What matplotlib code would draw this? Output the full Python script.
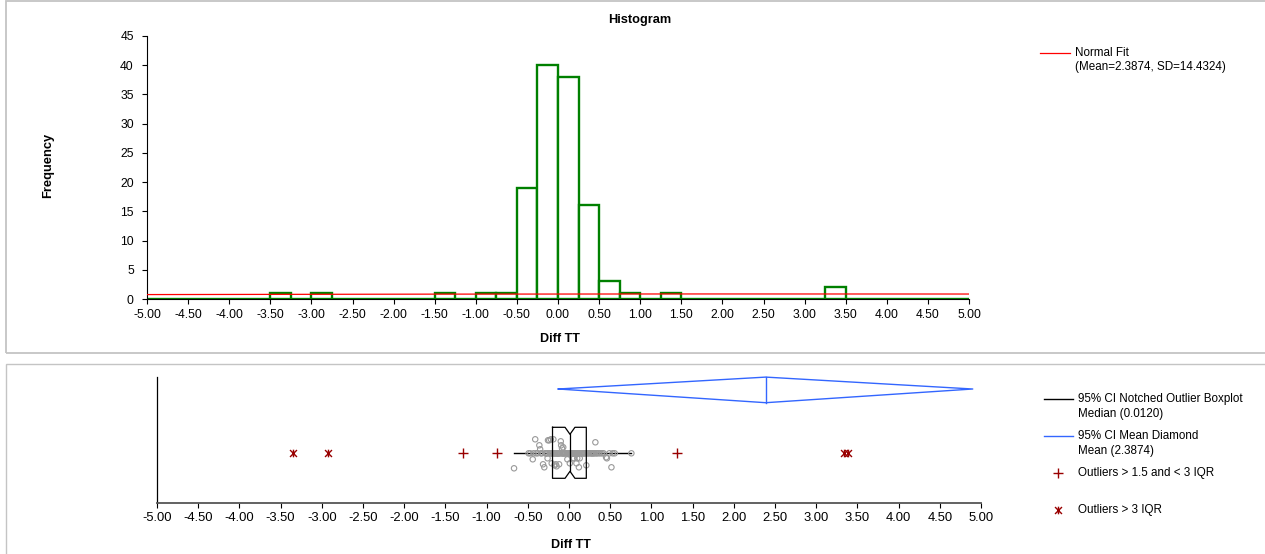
import numpy as np
import matplotlib
matplotlib.use("Agg")
import matplotlib.pyplot as plt
from matplotlib.patches import Rectangle
from matplotlib.lines import Line2D
from matplotlib.path import Path

plt.rcParams['font.family'] = ['Liberation Sans', 'DejaVu Sans']

# ---------------- data ----------------
bin_start = -5.0
bin_width = 0.25
counts = [0, 0, 0, 0, 0, 0, 1, 0, 1, 0,
          0, 0, 0, 0, 1, 0, 1, 1, 19, 40,
          38, 16, 3, 1, 0, 1, 0, 0, 0, 0,
          0, 0, 0, 2, 0, 0, 0, 0, 0, 0]
n_obs = 125
fit_mean = 2.3874
fit_sd = 14.4324
x_ticks = [-5.0, -4.5, -4.0, -3.5, -3.0, -2.5, -2.0, -1.5, -1.0, -0.5,
           0.0, 0.5, 1.0, 1.5, 2.0, 2.5, 3.0, 3.5, 4.0, 4.5, 5.0]
y_ticks = [0, 5, 10, 15, 20, 25, 30, 35, 40, 45]

# box plot summary
median = 0.012
q1 = -0.20
q3 = 0.21
notch_half = 0.06
whisker_low = -0.667
whisker_high = 0.757
mean_ci_low = -0.13
mean_ci_high = 4.90
mild_outliers = [-1.29, -0.87, 1.31]
extreme_outliers = [-3.35, -2.93, 3.34, 3.39]

# jittered observations (value, vertical jitter in px, + = up)
jitter_values = [
    -0.667,
    -0.49, -0.47, -0.44, -0.43, -0.41, -0.40, -0.38, -0.36, -0.35, -0.34,
    -0.33, -0.315, -0.30, -0.29, -0.28, -0.27, -0.26, -0.26, -0.255,
    -0.24, -0.235, -0.23, -0.22, -0.215, -0.21, -0.205, -0.20, -0.19, -0.185,
    -0.18, -0.175, -0.17, -0.165, -0.16, -0.155, -0.15, -0.145, -0.14, -0.135,
    -0.13, -0.125, -0.12, -0.115, -0.11, -0.10, -0.095, -0.09, -0.085, -0.08,
    -0.075, -0.07, -0.065, -0.06, -0.05, -0.04, -0.03, -0.02, -0.015, -0.01,
    0.0, 0.005, 0.01, 0.015, 0.02, 0.025, 0.03, 0.035, 0.04, 0.045,
    0.05, 0.055, 0.06, 0.065, 0.07, 0.075, 0.08, 0.085, 0.09, 0.095,
    0.10, 0.105, 0.11, 0.115, 0.12, 0.125, 0.13, 0.14, 0.15, 0.16,
    0.17, 0.18, 0.19, 0.20, 0.21, 0.22, 0.23, 0.24,
    0.26, 0.27, 0.28, 0.29, 0.30, 0.31, 0.32, 0.33, 0.34, 0.36,
    0.38, 0.40, 0.42, 0.45, 0.46, 0.49,
    0.515, 0.53, 0.555, 0.757]
jitter_offsets = [
    -15,
    0, 0, -6, 0, 14, 0, 0, 8, 4, 0,
    0, -11, -14, 0, 0, 0, -5, 0, 13,
    13, 0, 0, 14, 0, -10, 0, 0, 14, 0,
    0, -12, 0, 0, -11, 0, -13, 0, 0, 0,
    0, 0, -11, 0, 0, 12, 8, 0, 5, 0,
    0, 6, 0, 0, 0, 0, 0, -6, 0, 0,
    0, 0, -10, 0, 0, 0, 0, 0, 0, 0,
    -5, 0, -5, 0, 0, 0, 0, 0, -10, 0,
    -5, 0, 0, 0, -14, 0, -5, 0, 0, 0,
    0, 0, 0, 0, -12, 0, 0, 0,
    0, 0, 0, 0, 0, 0, 11, 0, 0, 0,
    0, 0, 0, -4, -5, 0,
    -14, 0, 0, 0]

# ---------------- layout helpers ----------------
W, H = 1265, 554
def fx(px):
    return px / W
def fy(py):
    return 1 - py / H

fig = plt.figure(figsize=(W / 100, H / 100), dpi=100)
fig.patch.set_facecolor('white')

# panel frames
fig.patches.append(Rectangle((fx(6), fy(353)), fx(1300 - 6), fy(1) - fy(353),
                             transform=fig.transFigure, fill=False,
                             edgecolor='#c4c4c4', lw=1.3))
fig.patches.append(Rectangle((fx(6), fy(600)), fx(1300 - 6), fy(364) - fy(600),
                             transform=fig.transFigure, fill=False,
                             edgecolor='#c4c4c4', lw=1.0))

FS_TOP = 8.7
FS_BOT = 9.4
FS_LEG = 8.4
FS_LAB = 9.0
GREEN = '#008000'
RED = '#ff0000'
DARKRED = '#990000'
BLUE = '#3366ff'
GRAY = '#999999'

# ---------------- histogram ----------------
ax1 = fig.add_axes([fx(147), fy(299), fx(969) - fx(147), fy(36) - fy(299)])
lefts = bin_start + bin_width * np.arange(len(counts))
ax1.bar(lefts, counts, width=bin_width, align='edge', facecolor='white',
        edgecolor=GREEN, linewidth=1.7, zorder=2)
xs = np.linspace(-5, 5, 300)
pdf = n_obs * bin_width * np.exp(-0.5 * ((xs - fit_mean) / fit_sd) ** 2) / (fit_sd * np.sqrt(2 * np.pi))
ax1.plot(xs, pdf, color=RED, lw=0.9, zorder=3)
ax1.set_xlim(-5, 5)
ax1.set_ylim(0, 45)
ax1.set_xticks(x_ticks)
ax1.set_xticklabels([f"{t:.2f}" for t in x_ticks])
ax1.set_yticks(y_ticks)
for s in ['top', 'right']:
    ax1.spines[s].set_visible(False)
for s in ['left', 'bottom']:
    ax1.spines[s].set_linewidth(0.8)
ax1.tick_params(axis='both', direction='out', length=3.5, width=0.8,
                labelsize=FS_TOP, colors='black')
ax1.tick_params(axis='x', pad=4)
ax1.tick_params(axis='y', pad=6)

fig.text(fx(640), fy(20), 'Histogram', fontsize=9.2, fontweight='bold',
         ha='center', va='center')
fig.text(fx(48), fy(165), 'Frequency', fontsize=9.3, fontweight='bold',
         rotation=90, ha='center', va='center')
fig.text(fx(560), fy(339), 'Diff TT', fontsize=FS_LAB, fontweight='bold',
         ha='center', va='center')

# legend (top)
fig.add_artist(Line2D([fx(1040), fx(1070)], [fy(53), fy(53)], color=RED, lw=0.9))
fig.text(fx(1075), fy(53), 'Normal Fit', fontsize=FS_LEG, ha='left', va='center')
fig.text(fx(1075), fy(67), '(Mean=2.3874, SD=14.4324)', fontsize=FS_LEG, ha='left', va='center')

# ---------------- box plot ----------------
ax2 = fig.add_axes([fx(157), fy(503.3), fx(981) - fx(157), fy(376.7) - fy(503.3)])
ax2.set_xlim(-5, 5)
ax2.set_ylim(0, 126.6)
yc = 50.0
box_top = 76.0
box_bot = 25.0
notch_depth = 7.0

# mean diamond
d_mid, d_top, d_bot = 114.3, 126.2, 100.6
ax2.plot([mean_ci_low, fit_mean, mean_ci_high, fit_mean, mean_ci_low],
         [d_mid, d_top, d_mid, d_bot, d_mid], color=BLUE, lw=1.0, clip_on=False)
ax2.plot([fit_mean, fit_mean], [d_bot, d_top], color=BLUE, lw=1.0, clip_on=False)

# jittered points
ax2.scatter(jitter_values, [yc + o for o in jitter_offsets], s=15,
            facecolors='none', edgecolors=GRAY, linewidths=0.8, zorder=3)

# whiskers
ax2.plot([whisker_low, q1], [yc, yc], color='black', lw=1.0, zorder=2)
ax2.plot([q3, whisker_high], [yc, yc], color='black', lw=1.0, zorder=2)

# notched box
bx = [q1, median - notch_half, median, median + notch_half, q3,
      q3, median + notch_half, median, median - notch_half, q1, q1]
by = [box_top, box_top, box_top - notch_depth, box_top, box_top,
      box_bot, box_bot, box_bot + notch_depth, box_bot, box_bot, box_top]
ax2.plot(bx, by, color='black', lw=0.9, zorder=4)
ax2.plot([median, median], [box_bot + notch_depth, box_top - notch_depth],
         color='black', lw=0.9, zorder=4)

# outliers
star = Path([(-1, -1), (1, 1), (-1, 1), (1, -1), (0, -1.1), (0, 1.1)],
            [Path.MOVETO, Path.LINETO, Path.MOVETO, Path.LINETO, Path.MOVETO, Path.LINETO])
ax2.plot(mild_outliers, [yc] * len(mild_outliers), linestyle='none', marker='+',
         ms=6.5, mew=1.0, color=DARKRED, zorder=5)
ax2.plot(extreme_outliers, [yc] * len(extreme_outliers), linestyle='none', marker=star,
         ms=5.5, mew=1.0, color=DARKRED, zorder=5)

ax2.set_xticks(x_ticks)
ax2.set_xticklabels([f"{t:.2f}" for t in x_ticks])
ax2.set_yticks([])
for s in ['top', 'right']:
    ax2.spines[s].set_visible(False)
ax2.spines['left'].set_linewidth(0.9)
ax2.spines['bottom'].set_linewidth(1.3)
ax2.spines['bottom'].set_color('#555555')
ax2.tick_params(axis='x', direction='out', length=3.5, width=0.8,
                labelsize=FS_BOT, pad=2.5, color='black')
fig.text(fx(571), fy(545), 'Diff TT', fontsize=FS_LAB, fontweight='bold',
         ha='center', va='center')

# legend (bottom)
fig.add_artist(Line2D([fx(1044), fx(1073)], [fy(399), fy(399)], color='black', lw=1.0))
fig.text(fx(1078), fy(399), '95% CI Notched Outlier Boxplot', fontsize=FS_LEG, ha='left', va='center')
fig.text(fx(1078), fy(414), 'Median (0.0120)', fontsize=FS_LEG, ha='left', va='center')
fig.add_artist(Line2D([fx(1044), fx(1073)], [fy(436), fy(436)], color=BLUE, lw=1.0))
fig.text(fx(1078), fy(436), '95% CI Mean Diamond', fontsize=FS_LEG, ha='left', va='center')
fig.text(fx(1078), fy(451), 'Mean (2.3874)', fontsize=FS_LEG, ha='left', va='center')
fig.add_artist(Line2D([fx(1058)], [fy(473)], linestyle='none', marker='+', ms=6.5,
                      mew=1.0, color=DARKRED))
fig.text(fx(1078), fy(473), 'Outliers > 1.5 and < 3 IQR', fontsize=FS_LEG, ha='left', va='center')
fig.add_artist(Line2D([fx(1058)], [fy(510)], linestyle='none', marker=star, ms=5.5,
                      mew=1.0, color=DARKRED))
fig.text(fx(1078), fy(510), 'Outliers > 3 IQR', fontsize=FS_LEG, ha='left', va='center')

fig.savefig('out.png', dpi=100, facecolor='white')
